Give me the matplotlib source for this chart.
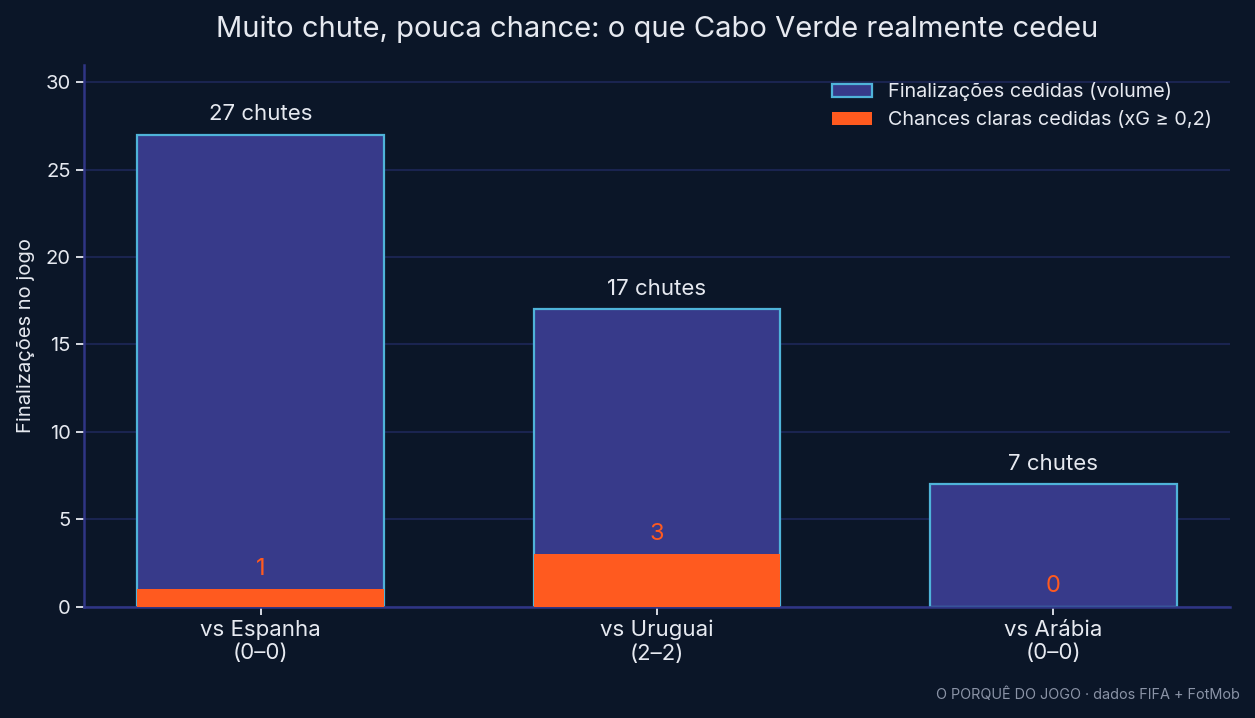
import matplotlib
matplotlib.use("Agg")
import matplotlib.pyplot as plt
from matplotlib.patches import Patch

# dados
jogos = ["vs Espanha\n(0–0)", "vs Uruguai\n(2–2)", "vs Arábia\n(0–0)"]
finalizacoes = [27, 17, 7]
chances_claras = [1, 3, 0]

BG = "#0b1628"
VOL = "#373a8a"
EDGE = "#4fb3d9"
ORANGE = "#ff5a1f"
GRID = "#1a2450"
SPINE = "#2f3585"
TXT = "#e6e9f0"

plt.rcParams['font.family'] = ['Inter', 'DejaVu Sans']

fig, ax = plt.subplots(figsize=(12.55, 7.18), dpi=100)
fig.patch.set_facecolor(BG)
ax.set_facecolor(BG)
fig.subplots_adjust(left=0.067, right=0.98, top=0.91, bottom=0.155)

x = range(len(jogos))
w = 0.622
ax.bar(x, finalizacoes, width=w, color=VOL, edgecolor=EDGE, linewidth=1.6, zorder=2)
ax.bar(x, chances_claras, width=w, color=ORANGE, linewidth=0, zorder=3)

for i, (v, c) in enumerate(zip(finalizacoes, chances_claras)):
    ax.text(i, v + 0.6, f"{v} chutes", ha='center', va='bottom', color=TXT, fontsize=16)
    ax.text(i, c + 0.55, str(c), ha='center', va='bottom', color=ORANGE, fontsize=17)

ax.set_xlim(-0.445, 2.445)
ax.set_ylim(0, 31)
ax.set_xticks(list(x))
ax.set_xticklabels(jogos, fontsize=16, color=TXT)
ax.set_yticks([0, 5, 10, 15, 20, 25, 30])
ax.tick_params(axis='y', colors=TXT, labelsize=14.5, length=6, width=1.3)
ax.tick_params(axis='x', colors=TXT, length=6, width=1.3)
ax.grid(axis='y', color=GRID, linewidth=1.5, zorder=0)
ax.set_axisbelow(True)
for s in ['top', 'right']:
    ax.spines[s].set_visible(False)
for s in ['left', 'bottom']:
    ax.spines[s].set_color(SPINE)
    ax.spines[s].set_linewidth(1.8)

ax.set_ylabel("Finalizações no jogo", color=TXT, fontsize=14.5, labelpad=8)
ax.set_title("Muito chute, pouca chance: o que Cabo Verde realmente cedeu",
             color=TXT, fontsize=21, pad=20)

handles = [Patch(facecolor=VOL, edgecolor=EDGE, linewidth=1.6, label="Finalizações cedidas (volume)"),
           Patch(facecolor=ORANGE, label="Chances claras cedidas (xG ≥ 0,2)")]
leg = ax.legend(handles=handles, loc='upper right', frameon=False, fontsize=14.3,
                labelcolor=TXT, bbox_to_anchor=(1.0, 1.0))

fig.text(0.988, 0.033, "O PORQUÊ DO JOGO · dados FIFA + FotMob", ha='right', va='center',
         color="#8a93a6", fontsize=10.4)

plt.savefig("out.png", facecolor=BG)
